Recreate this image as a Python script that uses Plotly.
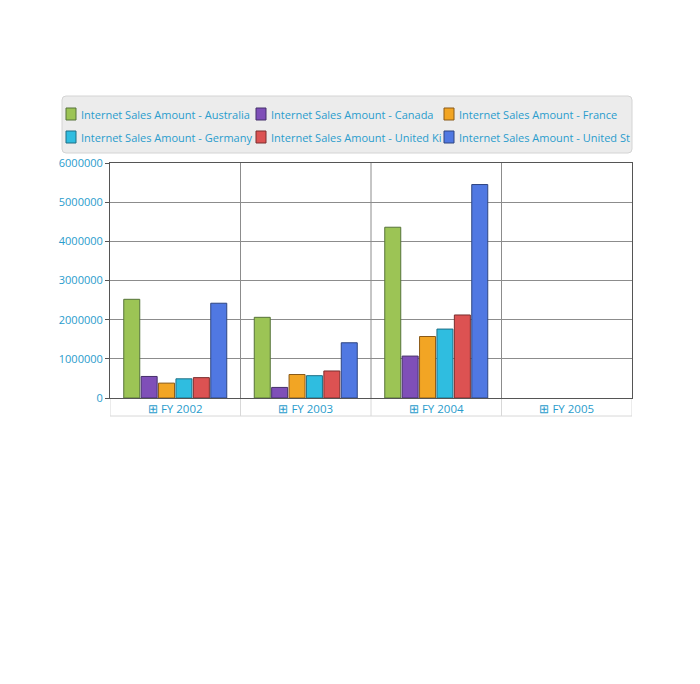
import plotly.graph_objects as go

categories = ["FY 2002", "FY 2003", "FY 2004", "FY 2005"]
tick_labels = ["⊞ FY 2002", "⊞ FY 2003", "⊞ FY 2004", "⊞ FY 2005"]
series_names = [
    "Internet Sales Amount - Australia",
    "Internet Sales Amount - Canada",
    "Internet Sales Amount - France",
    "Internet Sales Amount - Germany",
    "Internet Sales Amount - United Ki",
    "Internet Sales Amount - United St",
]
australia = [2520000, 2060000, 4360000, None]
canada = [550000, 270000, 1070000, None]
france = [380000, 600000, 1570000, None]
germany = [490000, 570000, 1760000, None]
united_kingdom = [520000, 690000, 2120000, None]
united_states = [2420000, 1410000, 5450000, None]
series_values = [australia, canada, france, germany, united_kingdom, united_states]
y_ticks = [0, 1000000, 2000000, 3000000, 4000000, 5000000, 6000000]

colors = ["#9cc455", "#7f4fb8", "#f2a524", "#2fbde0", "#dc5252", "#5078e2"]
outlines = ["#56733a", "#45306a", "#8a5a18", "#1e6f85", "#7a2e2e", "#2e4480"]

# plot area in pixels
PL, PR, PT, PB = 110, 632, 163, 398
W, H = 700, 684


def px_x(px):
    return (px - PL) / (PR - PL)


def px_y(py):
    return (PB - py) / (PB - PT)


fig = go.Figure()
for name, vals, c, o in zip(series_names, series_values, colors, outlines):
    fig.add_trace(go.Bar(
        x=categories, y=vals, name=name,
        marker=dict(color=c, line=dict(color=o, width=1)),
    ))

blue_text = "#2a9ccc"
label_h = 18 / (PB - PT)

shapes = []
for xv in [0.5, 1.5, 2.5]:
    shapes.append(dict(type="line", xref="x", yref="paper", x0=xv, x1=xv, y0=0, y1=1,
                       line=dict(color="#8c8c8c", width=1), layer="below"))
for xv in [-0.5, 0.5, 1.5, 2.5, 3.5]:
    shapes.append(dict(type="line", xref="x", yref="paper", x0=xv, x1=xv, y0=-label_h, y1=0,
                       line=dict(color="#d8d8d8", width=1), layer="below"))
shapes.append(dict(type="line", xref="x", yref="paper", x0=-0.5, x1=3.5, y0=-label_h, y1=-label_h,
                   line=dict(color="#d8d8d8", width=1), layer="below"))

# custom legend box (rounded)
lx0, lx1, ly0, ly1, r = 62, 632, 96, 153, 4
path = (f"M {px_x(lx0 + r)},{px_y(ly0)} L {px_x(lx1 - r)},{px_y(ly0)} "
        f"Q {px_x(lx1)},{px_y(ly0)} {px_x(lx1)},{px_y(ly0 + r)} "
        f"L {px_x(lx1)},{px_y(ly1 - r)} Q {px_x(lx1)},{px_y(ly1)} {px_x(lx1 - r)},{px_y(ly1)} "
        f"L {px_x(lx0 + r)},{px_y(ly1)} Q {px_x(lx0)},{px_y(ly1)} {px_x(lx0)},{px_y(ly1 - r)} "
        f"L {px_x(lx0)},{px_y(ly0 + r)} Q {px_x(lx0)},{px_y(ly0)} {px_x(lx0 + r)},{px_y(ly0)} Z")
shapes.append(dict(type="path", xref="paper", yref="paper", path=path,
                   fillcolor="#ececec", line=dict(color="#d4d4d4", width=1), layer="above"))

annotations = []
col_x = [66, 256, 444]
row_y = [114, 137]
for i, (name, c, o) in enumerate(zip(series_names, colors, outlines)):
    cx = col_x[i % 3]
    cy = row_y[i // 3]
    shapes.append(dict(type="rect", xref="paper", yref="paper",
                       x0=px_x(cx), x1=px_x(cx + 10), y0=px_y(cy + 6), y1=px_y(cy - 6),
                       fillcolor=c, line=dict(color=o, width=1), layer="above"))
    annotations.append(dict(xref="paper", yref="paper", x=px_x(cx + 13), y=px_y(cy),
                            xanchor="left", yanchor="middle", showarrow=False, text=name,
                            font=dict(family="Open Sans", size=11, color=blue_text)))

fig.update_layout(
    width=W, height=H,
    margin=dict(l=PL, r=W - PR, t=PT, b=H - PB),
    paper_bgcolor="white", plot_bgcolor="white",
    barmode="group", bargap=0.2, bargroupgap=0.08,
    font=dict(family="Open Sans", size=11, color=blue_text),
    showlegend=False,
    shapes=shapes,
    annotations=annotations,
    xaxis=dict(
        type="category", range=[-0.5, 3.5],
        tickmode="array", tickvals=categories, ticktext=tick_labels,
        showgrid=False, showline=True, linecolor="#555555", linewidth=1,
        mirror=True, ticks="", tickfont=dict(color=blue_text, size=11.5),
    ),
    yaxis=dict(
        range=[0, 6000000], tickmode="array", tickvals=y_ticks,
        ticktext=[str(v) for v in y_ticks],
        showgrid=True, gridcolor="#8c8c8c", gridwidth=1,
        showline=True, linecolor="#555555", linewidth=1, mirror=True,
        ticks="outside", ticklen=4, tickcolor="#555555",
        tickfont=dict(color=blue_text, size=11), zeroline=False,
    ),
)

fig.write_html("out.html")
